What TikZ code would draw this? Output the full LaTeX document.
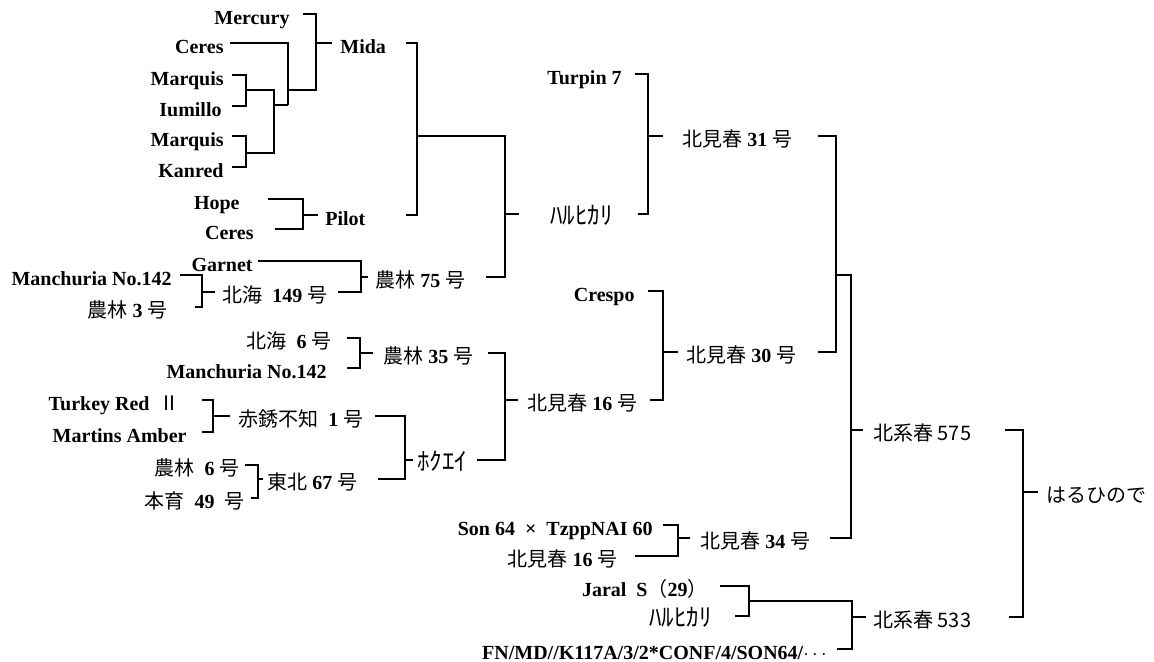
\documentclass[tikz,border=0pt]{standalone}
\usepackage{fontspec}
\setmainfont{Liberation Serif}
\newfontfamily\jpfont{Noto Sans CJK JP}
\newcommand{\jp}[1]{{\jpfont\mdseries #1}}
\newcommand{\hk}[1]{{\jpfont\mdseries\fontsize{12.5pt}{12.5pt}\selectfont #1}}
\tikzset{
  lbl/.style={inner sep=0pt, text height=10pt, text depth=0pt, font=\bfseries},
  link/.style={line width=0.9pt},
  lgap/.style={shorten <=#1},
  rgap/.style={shorten >=#1},
}
\begin{document}
\begin{tikzpicture}[x=0.5pt, y=-0.5pt]
    \useasboundingbox (0,0) rectangle (1154,661);

    % Parents on the far left
    \node[lbl, anchor=east] (mercury) at (290,14) {Mercury};
    \node[lbl, anchor=east] (ceresa) at (224,43) {Ceres};
    \node[lbl, anchor=east] (marquisa) at (224,75) {Marquis};
    \node[lbl, anchor=east] (iumillo) at (222,106) {Iumillo};
    \node[lbl, anchor=east] (marquisb) at (224,136) {Marquis};
    \node[lbl, anchor=east] (kanred) at (224,167) {Kanred};
    \node[lbl, anchor=east] (hope) at (240,199) {Hope};
    \node[lbl, anchor=east] (ceresb) at (254,229) {Ceres};
    \node[lbl, anchor=east] (garnet) at (253,261) {Garnet};
    \node[lbl, anchor=east] (mancha) at (172,275) {Manchuria No.142};
    \node[lbl, anchor=east] (norin3) at (168,307) {\jp{農林} 3 \jp{号}};
    \node[lbl, anchor=east] (hokkai6) at (332,338) {\jp{北海}\ \ 6 \jp{号}};
    \node[lbl, anchor=east] (manchb) at (327,368) {Manchuria No.142};
    \node[lbl, anchor=east] (turkey) at (180,400) {Turkey Red\ \ \jp{Ⅱ}};
    \node[lbl, anchor=east] (martins) at (187,432) {Martins Amber};
    \node[lbl, anchor=east] (norin6) at (240,465) {\jp{農林}\ \ 6 \jp{号}};
    \node[lbl, anchor=east] (honiku) at (245,498) {\jp{本育}\ \ 49\ \ \jp{号}};
    \node[lbl, anchor=east] (turpin) at (622,74) {Turpin 7};
    \node[lbl, anchor=east] (crespo) at (635,291) {Crespo};
    \node[lbl, anchor=east] (son) at (653,525) {Son 64\ \ ×\ \ TzppNAI 60};
    \node[lbl, anchor=east] (kitab) at (618,556) {\jp{北見春} 16 \jp{号}};
    \node[lbl, anchor=east] (jaral) at (708,586) {Jaral\ \ S\jp{（}29\jp{）}};
    \node[lbl, anchor=east] (harub) at (712,616) {\hk{ﾊﾙﾋｶﾘ}};
    \node[lbl, anchor=east] (fn) at (827,649) {FN/MD//K117A/3/2*CONF/4/SON64/$\cdots$};

    % Crosses
    \node[lbl, anchor=west] (mida) at (340,43) {Mida};
    \node[lbl, anchor=west] (pilot) at (325,215) {Pilot};
    \node[lbl, anchor=west] (hokkai149) at (222,292) {\jp{北海}\ \ 149 \jp{号}};
    \node[lbl, anchor=west] (norin75) at (375,277) {\jp{農林} 75 \jp{号}};
    \node[lbl, anchor=west] (harua) at (550,214) {\hk{ﾊﾙﾋｶﾘ}};
    \node[lbl, anchor=west] (kita31) at (682,136) {\jp{北見春} 31 \jp{号}};
    \node[lbl, anchor=west] (norin35) at (383,353) {\jp{農林} 35 \jp{号}};
    \node[lbl, anchor=west] (sekisho) at (238,416) {\jp{赤銹不知}\ \ 1 \jp{号}};
    \node[lbl, anchor=west] (tohoku67) at (267,479) {\jp{東北} 67 \jp{号}};
    \node[lbl, anchor=west] (hokuei) at (417,460) {\hk{ﾎｸｴｲ}};
    \node[lbl, anchor=west] (kita16) at (527,400) {\jp{北見春} 16 \jp{号}};
    \node[lbl, anchor=west] (kita30) at (686,352) {\jp{北見春} 30 \jp{号}};
    \node[lbl, anchor=west] (kita34) at (700,538) {\jp{北見春} 34 \jp{号}};
    \node[lbl, anchor=west] (kk575) at (873,430) {\jp{北系春 575}};
    \node[lbl, anchor=west] (kk533) at (873,617) {\jp{北系春 533}};
    \node[lbl, anchor=west] (harunohi) at (1046,492) {\jp{はるひので}};

    % Bracket joints
    \coordinate (j1) at (246,90);
    \coordinate (j2) at (246,153);
    \coordinate (j3) at (274,105);
    \coordinate (j4) at (288,105);
    \coordinate (j5) at (288,90);
    \coordinate (j6) at (316,43);
    \coordinate (jpilot) at (303,215);
    \coordinate (jmp) at (417,136);
    \coordinate (jh) at (505,214);
    \coordinate (jh149) at (202,292);
    \coordinate (jn75) at (361,277);
    \coordinate (j31) at (648,136);
    \coordinate (jn35) at (360,353);
    \coordinate (jsek) at (213,416);
    \coordinate (jtoh) at (258,479);
    \coordinate (jhok) at (405,460);
    \coordinate (jk16) at (505,400);
    \coordinate (jk30) at (663,352);
    \coordinate (jk3130) at (836,275);
    \coordinate (j575) at (851,430);
    \coordinate (jk34) at (678,538);
    \coordinate (jjh) at (749,601);
    \coordinate (j533) at (852,617);
    \coordinate (jend) at (1023,492);

    % Mida
    \draw[link, lgap=4pt] (marquisa.east) -| (j1);
    \draw[link, lgap=5pt] (iumillo.east) -| (j1);
    \draw[link, lgap=4pt] (marquisb.east) -| (j2);
    \draw[link, lgap=4pt] (kanred.east) -| (j2);
    \draw[link] (j1) -| (j3);
    \draw[link] (j2) -| (j3);
    \draw[link] (j3) -- (j4);
    \draw[link, lgap=3pt] (ceresa.east) -| (j4);
    \draw[link] (j5) -| (j6);
    \draw[link, lgap=6.5pt] (mercury.east) -| (j6);
    \draw[link, rgap=4pt] (j6) -- (mida.west);

    % Pilot, Norin 75 and Haruhikari
    \draw[link, lgap=14pt] (hope.east) -| (jpilot);
    \draw[link, lgap=10.5pt] (ceresb.east) -| (jpilot);
    \draw[link, rgap=3.5pt] (jpilot) -- (pilot.west);
    \draw[link, lgap=10pt] (mida.east) -| (jmp);
    \draw[link, lgap=20pt] (pilot.east) -| (jmp);
    \draw[link, lgap=4pt] (mancha.east) -| (jh149);
    \draw[link, lgap=13.5pt] (norin3.east) -| (jh149);
    \draw[link, rgap=3.5pt] (jh149) -- (hokkai149.west);
    \draw[link, lgap=2.5pt] (garnet.east) -| (jn75);
    \draw[link, lgap=5pt] (hokkai149.east) -| (jn75);
    \draw[link, rgap=3.5pt] (jn75) -- (norin75.west);
    \draw[link] (jmp) -| (jh);
    \draw[link, lgap=10pt] (norin75.east) -| (jh);
    \draw[link, rgap=15.5pt] (jh) -- (harua.west);
    \draw[link, lgap=6.5pt] (turpin.east) -| (j31);
    \draw[link, lgap=12.5pt] (harua.east) -| (j31);
    \draw[link, rgap=9.5pt] (j31) -- (kita31.west);

    % Kitamiharu 16 and 30
    \draw[link, lgap=7.5pt] (hokkai6.east) -| (jn35);
    \draw[link, lgap=10pt] (manchb.east) -| (jn35);
    \draw[link, rgap=5pt] (jn35) -- (norin35.west);
    \draw[link, lgap=11pt] (turkey.east) -| (jsek);
    \draw[link, lgap=7.5pt] (martins.east) -| (jsek);
    \draw[link, rgap=4pt] (jsek) -- (sekisho.west);
    \draw[link, lgap=2.5pt] (norin6.east) -| (jtoh);
    \draw[link, lgap=3pt] (honiku.east) -| (jtoh);
    \draw[link, rgap=2pt] (jtoh) -- (tohoku67.west);
    \draw[link, lgap=5.5pt] (sekisho.east) -| (jhok);
    \draw[link, lgap=10pt] (tohoku67.east) -| (jhok);
    \draw[link, rgap=2pt] (jhok) -- (hokuei.west);
    \draw[link, lgap=7pt] (norin35.east) -| (jk16);
    \draw[link, lgap=4.5pt] (hokuei.east) -| (jk16);
    \draw[link, rgap=4.5pt] (jk16) -- (kita16.west);
    \draw[link, lgap=6.5pt] (crespo.east) -| (jk30);
    \draw[link, lgap=6pt] (kita16.east) -| (jk30);
    \draw[link, rgap=4pt] (jk30) -- (kita30.west);

    % Kitakeiharu 575
    \draw[link, lgap=12.5pt] (kita31.east) -| (jk3130);
    \draw[link, lgap=10.5pt] (kita30.east) -| (jk3130);
    \draw[link, lgap=5pt] (son.east) -| (jk34);
    \draw[link, lgap=8.5pt] (kitab.east) -| (jk34);
    \draw[link, rgap=5pt] (jk34) -- (kita34.west);
    \draw[link] (jk3130) -| (j575);
    \draw[link, lgap=9.5pt] (kita34.east) -| (j575);
    \draw[link, rgap=5pt] (j575) -- (kk575.west);

    % Kitakeiharu 533
    \draw[link, lgap=6pt] (jaral.east) -| (jjh);
    \draw[link, lgap=11.5pt] (harub.east) -| (jjh);
    \draw[link] (jjh) -| (j533);
    \draw[link, lgap=5pt] (fn.east) -| (j533);
    \draw[link, rgap=3.5pt] (j533) -- (kk533.west);

    % Haruhinode
    \draw[link, lgap=16.5pt] (kk575.east) -| (jend);
    \draw[link, lgap=18.5pt] (kk533.east) -| (jend);
    \draw[link, rgap=4pt] (jend) -- (harunohi.west);
\end{tikzpicture}
\end{document}
